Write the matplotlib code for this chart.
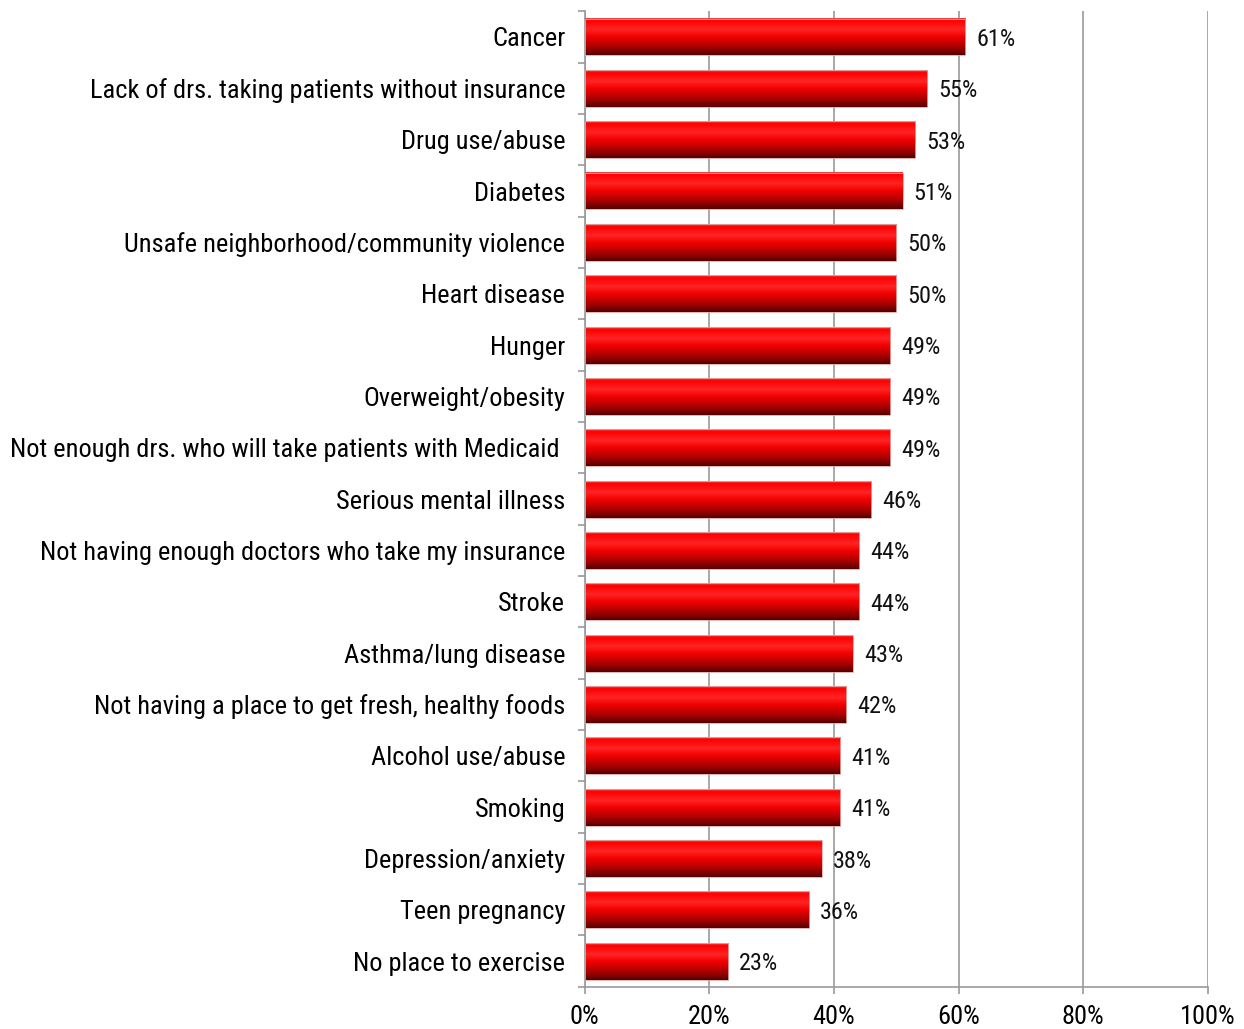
import matplotlib.pyplot as plt
import numpy as np
from matplotlib.colors import LinearSegmentedColormap
from matplotlib.ticker import FixedLocator, PercentFormatter

plt.rcParams['font.family'] = ['Roboto Condensed', 'Liberation Sans', 'DejaVu Sans']

issues = [
    'Cancer',
    'Lack of drs. taking patients without insurance',
    'Drug use/abuse',
    'Diabetes',
    'Unsafe neighborhood/community violence',
    'Heart disease',
    'Hunger',
    'Overweight/obesity',
    'Not enough drs. who will take patients with Medicaid ',
    'Serious mental illness',
    'Not having enough doctors who take my insurance',
    'Stroke',
    'Asthma/lung disease',
    'Not having a place to get fresh, healthy foods',
    'Alcohol use/abuse',
    'Smoking',
    'Depression/anxiety',
    'Teen pregnancy',
    'No place to exercise',
]
shares = [61, 55, 53, 51, 50, 50, 49, 49, 49, 46, 44, 44, 43, 42, 41, 41, 38, 36, 23]
x_ticks = [0, 20, 40, 60, 80, 100]

# vertical shading for the bars: bright red on top fading to dark maroon
bar_cmap = LinearSegmentedColormap.from_list(
    'bar_shade',
    [(0.0, '#f04848'), (0.06, '#ff0000'), (0.3, '#ff2424'), (0.5, '#f20000'),
     (0.8, '#a40000'), (1.0, '#560000')])
shade = np.linspace(0, 1, 64).reshape(-1, 1)

fig = plt.figure(figsize=(12.44, 10.29), dpi=100)
ax = fig.add_axes([0.470, 0.041, 0.501, 0.948])

n = len(issues)
pos = np.arange(n)
h = 0.72
for y, v in zip(pos, shares):
    ax.imshow(shade, extent=[0, v, y + h / 2, y - h / 2], cmap=bar_cmap,
              aspect='auto', interpolation='bilinear', zorder=3)
    ax.add_patch(plt.Rectangle((0, y - h / 2), v, h, fill=False,
                               edgecolor='#e0a8a8', linewidth=0.6, zorder=4))
    ax.text(v + 1.8, y + 0.05, f'{v}%', va='center', ha='left', fontsize=17.5,
            color='#111111', zorder=5)

ax.set_xlim(0, 100)
ax.set_ylim(n - 0.5, -0.5)
ax.set_yticks(pos)
ax.set_yticklabels(issues, fontsize=19)
for lab in ax.get_yticklabels():
    lab.set_va('center_baseline')
ax.yaxis.set_minor_locator(FixedLocator(np.arange(-0.5, n, 1)))
ax.tick_params(axis='y', which='major', length=0, pad=14)
ax.tick_params(axis='y', which='minor', length=5, color='#999999', width=1.2)
ax.set_xticks(x_ticks)
ax.xaxis.set_major_formatter(PercentFormatter(decimals=0))
ax.tick_params(axis='x', labelsize=19, length=5, color='#999999', width=1.2, pad=8)

ax.grid(axis='x', color='#999999', linewidth=1.2, zorder=0)
ax.set_axisbelow(True)
for side in ['top', 'right']:
    ax.spines[side].set_visible(False)
for side in ['left', 'bottom']:
    ax.spines[side].set_color('#999999')
    ax.spines[side].set_linewidth(1.2)

fig.savefig('out.png', dpi=100, facecolor='white')
